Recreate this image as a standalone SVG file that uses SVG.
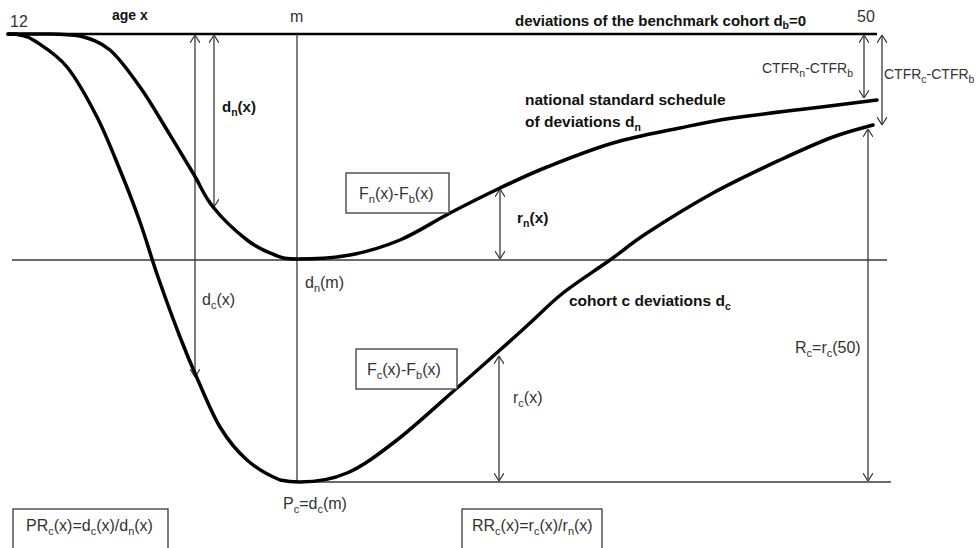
<svg xmlns="http://www.w3.org/2000/svg" width="978" height="548" viewBox="0 0 978 548">
<style>
text{font-family:"Liberation Sans",Arial,sans-serif;font-size:16px;fill:#333}
.b{font-weight:bold;fill:#111;font-size:15.5px}
.c{font-size:14px}
.s{font-size:11px}
.b .s,.c .s{font-size:10.5px}
.thin{stroke:#3a3a3a;stroke-width:1.3;fill:none}
.arr{stroke:#3a3a3a;stroke-width:1.3;fill:none;marker-start:url(#h);marker-end:url(#h)}
.curve{stroke:#000;stroke-width:3.5;fill:none;stroke-linecap:round;stroke-linejoin:round}
.box{fill:#fff;stroke:#3a3a3a;stroke-width:1.3}
</style>
<defs>
<marker id="h" viewBox="0 0 8 10" refX="8" refY="5" markerWidth="8" markerHeight="10" markerUnits="userSpaceOnUse" orient="auto-start-reverse">
<path d="M0,0 L8,5 L0,10" fill="none" stroke="#3a3a3a" stroke-width="1.2"/>
</marker>
</defs>
<rect width="978" height="548" fill="#fff"/>
<g id="connectors">
<line x1="8" y1="34" x2="877" y2="34" stroke="#000" stroke-width="2.6"/>
<line class="thin" x1="12" y1="260" x2="887" y2="260"/>
<line class="thin" x1="297" y1="482" x2="891" y2="482"/>
<line class="thin" x1="297" y1="34" x2="297" y2="482"/>
<line class="arr" x1="214" y1="35" x2="214" y2="207"/>
<line class="arr" x1="195" y1="35" x2="195" y2="377"/>
<line class="arr" x1="500" y1="189" x2="500" y2="259"/>
<line class="arr" x1="499" y1="356" x2="499" y2="481"/>
<line class="arr" x1="868" y1="129" x2="868" y2="481"/>
<line class="arr" x1="864" y1="35" x2="864" y2="98"/>
<line class="arr" x1="882" y1="35" x2="882" y2="125"/>
</g>
<g id="national-curve">
<path class="curve" d="M8,34 C15,34 38,33.7 50,34 C62,34.3 70,34.5 80,36 C90,38.7 100,41.5 110,50 C120,58.5 130.5,73.7 140,87 C149.5,100.3 158.2,115.7 167,130 C175.8,144.3 185.3,160.2 193,173 C200.7,185.8 204,195.8 213,207 C222,218.2 236.7,232 247,240 C257.3,248 266.7,251.8 275,255 C283.3,258.2 284.5,259 297,259 C309.5,259 332.8,258.2 350,255 C367.2,251.8 383.3,247 400,240 C416.7,233 433.3,221.7 450,213 C466.7,204.3 483.8,195.7 500,188 C516.2,180.3 528.2,174.5 547,167 C565.8,159.5 590.8,149.5 613,143 C635.2,136.5 660,132.2 680,128 C700,123.8 710.8,121.3 733,118 C755.2,114.7 789,111 813,108 C837,105 866.3,101.3 877,100"/>
</g>
<g id="cohort-curve">
<path class="curve" d="M8,34 C10,34.2 15.5,33.8 20,35 C24.5,36.2 27.2,35.7 35,41 C42.8,46.3 56.7,54.3 67,67 C77.3,79.7 88.2,99.8 97,117 C105.8,134.2 112.8,152.5 120,170 C127.2,187.5 133.7,204.2 140,222 C146.3,239.8 151.3,257.8 158,277 C164.7,296.2 173.5,320.2 180,337 C186.5,353.8 190.3,363 197,378 C203.7,393 211.7,413.3 220,427 C228.3,440.7 237,451.2 247,460 C257,468.8 271.2,476.3 280,480 C287,481.5 292,482 300,482 C311,482 330.8,480 347,473 C363.2,466 378.7,454.2 397,440 C415.3,425.8 439.8,403 457,388 C474.2,373 487.8,360.8 500,350 C512.2,339.2 519.5,332.5 530,323 C540.5,313.5 549.7,303.5 563,293 C576.3,282.5 596,270 610,260 C624,250 629.8,244.2 647,233 C664.2,221.8 690.8,205.2 713,193 C735.2,180.8 760,169.3 780,160 C800,150.7 817.5,142.8 833,137 C848.5,131.2 866.3,127 873,125"/>
</g>
<g id="axis-labels">
<text x="10" y="27">12</text>
<text class="b" x="112" y="20" style="font-size:14px">age x</text>
<text x="290" y="22">m</text>
<text x="857" y="22">50</text>
<text class="b" x="515" y="26" style="font-size:15px">deviations of the benchmark cohort d<tspan class="s" dy="3">b</tspan><tspan dy="-3">=0</tspan></text>
</g>
<g id="label-dn">
<text class="b" x="222" y="112" style="font-size:15px">d<tspan class="s" dy="4">n</tspan><tspan dy="-4">(x)</tspan></text>
</g>
<g id="label-dc">
<text x="202" y="305">d<tspan class="s" dy="4">c</tspan><tspan dy="-4">(x)</tspan></text>
</g>
<g id="label-ctfrn">
<text class="c" x="762" y="73">CTFR<tspan class="s" dy="4">n</tspan><tspan dy="-4">-CTFR</tspan><tspan class="s" dy="4">b</tspan></text>
</g>
<g id="label-ctfrc">
<text class="c" x="884" y="79">CTFR<tspan class="s" dy="4">c</tspan><tspan dy="-4">-CTFR</tspan><tspan class="s" dy="4">b</tspan></text>
</g>
<g id="label-national">
<text class="b" x="525" y="105">national standard schedule</text>
<text class="b" x="525" y="127">of deviations d<tspan class="s" dy="4">n</tspan></text>
</g>
<g id="box-fn">
<rect class="box" x="346" y="173" width="103" height="40"/>
<text x="359" y="199">F<tspan class="s" dy="4">n</tspan><tspan dy="-4">(x)-F</tspan><tspan class="s" dy="4">b</tspan><tspan dy="-4">(x)</tspan></text>
</g>
<g id="label-rn">
<text class="b" x="517" y="223" style="font-size:15.5px">r<tspan class="s" dy="4">n</tspan><tspan dy="-4">(x)</tspan></text>
</g>
<g id="label-dnm">
<text x="305" y="288">d<tspan class="s" dy="4">n</tspan><tspan dy="-4">(m)</tspan></text>
</g>
<g id="label-cohort">
<text class="b" x="569" y="306">cohort c deviations d<tspan class="s" dy="4">c</tspan></text>
</g>
<g id="box-fc">
<rect class="box" x="356" y="349" width="101" height="40"/>
<text x="367" y="375">F<tspan class="s" dy="4">c</tspan><tspan dy="-4">(x)-F</tspan><tspan class="s" dy="4">b</tspan><tspan dy="-4">(x)</tspan></text>
</g>
<g id="label-rc">
<text x="513" y="403">r<tspan class="s" dy="4">c</tspan><tspan dy="-4">(x)</tspan></text>
</g>
<g id="label-Rc">
<text x="795" y="353">R<tspan class="s" dy="4">c</tspan><tspan dy="-4">=r</tspan><tspan class="s" dy="4">c</tspan><tspan dy="-4">(50)</tspan></text>
</g>
<g id="label-pc">
<text x="283" y="509">P<tspan class="s" dy="4">c</tspan><tspan dy="-4">=d</tspan><tspan class="s" dy="4">c</tspan><tspan dy="-4">(m)</tspan></text>
</g>
<g id="box-pr">
<rect class="box" x="13" y="509" width="155" height="45"/>
<text x="26" y="531">PR<tspan class="s" dy="4">c</tspan><tspan dy="-4">(x)=d</tspan><tspan class="s" dy="4">c</tspan><tspan dy="-4">(x)/d</tspan><tspan class="s" dy="4">n</tspan><tspan dy="-4">(x)</tspan></text>
</g>
<g id="box-rr">
<rect class="box" x="462" y="509" width="140" height="45"/>
<text x="472" y="531">RR<tspan class="s" dy="4">c</tspan><tspan dy="-4">(x)=r</tspan><tspan class="s" dy="4">c</tspan><tspan dy="-4">(x)/r</tspan><tspan class="s" dy="4">n</tspan><tspan dy="-4">(x)</tspan></text>
</g>
</svg>
